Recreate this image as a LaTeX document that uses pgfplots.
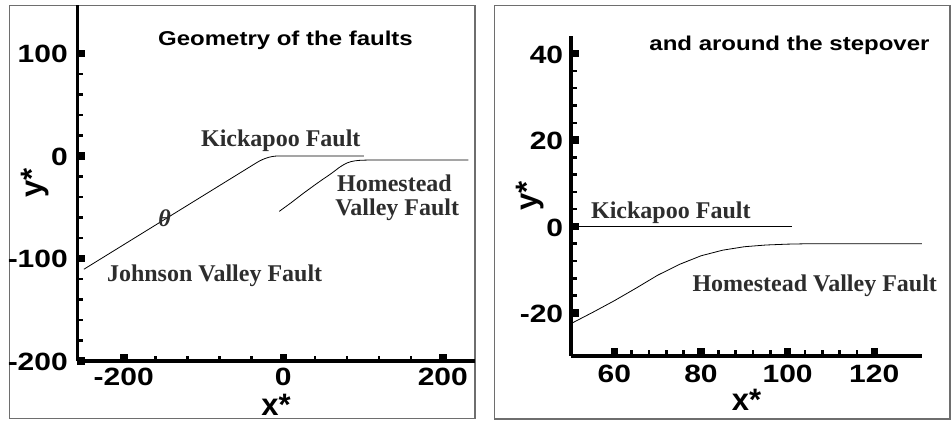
\documentclass[border=0pt]{standalone}
\usepackage{pgfplots}
\usepackage{pgfplotstable}
\pgfplotsset{compat=1.18}
\usepackage{fontspec}
\setmainfont{Liberation Serif}
\newfontfamily\hv[FakeStretch=1.2]{Liberation Sans}
\newfontfamily\hvl{Liberation Sans}
\definecolor{lab}{RGB}{45,45,45}
\definecolor{frm}{RGB}{110,110,110}

\pgfplotstableread{
x y
-250 -110.5
-34 -6.8
-30 -5.0
-26 -3.47
-22 -2.22
-18 -1.25
-14 -0.56
-10 -0.14
-6 0
101 0
}\kickapoo

\pgfplotstableread{
x y
-5 -54
10 -45.5
25 -36.5
40 -28
50 -22.5
55 -19.9
60 -17.2
65 -14.3
70 -11.3
75 -8.8
80 -6.8
85 -5.5
90 -4.7
95 -4.3
100 -4.1
105 -4.0
232 -4.0
}\homestead

\pgfplotsset{
  faultaxis/.style={
    scale only axis,
    anchor=south west,
    axis lines=left,
    axis line style={-, line width=3.2pt},
    every outer x axis line/.append style={-},
    every outer y axis line/.append style={-},
    tick align=inside,
    major tick length=7.5pt,
    minor tick length=5.5pt,
    every major tick/.append style={line width=7.5pt, black},
    every minor tick/.append style={line width=2.5pt, black},
    minor x tick num=4,
    minor y tick num=4,
    clip mode=individual,
    ticklabel style={font=\hv\bfseries\fontsize{25pt}{26pt}\selectfont, inner sep=0pt},
    label style={font=\hvl\bfseries\fontsize{31pt}{32pt}\selectfont, inner sep=0pt},
    xlabel={x*}, ylabel={y*},
  },
}
\tikzset{fl/.style={font=\bfseries\fontsize{24pt}{25pt}\selectfont, text=lab, inner sep=0pt}}

\begin{document}
\begin{tikzpicture}[x=1pt,y=1pt]
\useasboundingbox (0,0) rectangle (951,421);
\draw[frm, line width=1.2pt] (9.5,2.7) rectangle (475,415.3);
\draw[frm, line width=1.2pt] (494.3,2.0) rectangle (950,415.3);

\begin{axis}[faultaxis,
  at={(77.5pt,60pt)}, width=397.2pt, height=355.7pt,
  xmin=-258, xmax=240, ymin=-200, ymax=147,
  xtick={-200,0,200}, xticklabels={-200,0,200},
  ytick={-200,-100,0,100}, yticklabels={-200,-100,0,100},
  xticklabel style={anchor=north, yshift=-7.3pt},
  yticklabel style={anchor=east, xshift=-9.5pt, yshift=-0.5pt},
  xlabel style={at={(axis description cs:0.5,-0.122)}, anchor=center},
  ylabel style={at={(axis description cs:-0.107,0.5)}, anchor=center},
]
\addplot[black, line width=0.8pt] table {\kickapoo};
\addplot[black, line width=0.8pt] table {\homestead};
\node[fl, anchor=base] at (axis cs:-3.1,9.1) {Kickapoo Fault};
\node[fl, anchor=base west] at (axis cs:67.3,-34.8) {Homestead};
\node[fl, anchor=base west] at (axis cs:65,-57.6) {Valley Fault};
\node[fl, anchor=base west] at (axis cs:-221.2,-122.6) {Johnson Valley Fault};
\node[fl, font=\bfseries\itshape\fontsize{24pt}{25pt}\selectfont] at (axis cs:-148.8,-60.8) {θ};
\end{axis}

\begin{axis}[faultaxis,
  at={(571pt,65pt)}, width=350.9pt, height=319.6pt,
  xmin=50, xmax=131, ymin=-30, ymax=44,
  xtick={60,80,100,120}, xticklabels={60,80,100,120},
  ytick={-20,0,20,40}, yticklabels={-20,0,20,40},
  xticklabel style={anchor=north, yshift=-8.5pt},
  yticklabel style={anchor=east, xshift=-7.7pt, yshift=-1pt},
  xlabel style={at={(axis description cs:0.5,-0.137)}, anchor=center},
  ylabel style={at={(axis description cs:-0.117,0.5)}, anchor=center},
]
\addplot[black, line width=0.8pt] table {\kickapoo};
\addplot[black, line width=0.8pt] table {\homestead};
\node[fl, anchor=base west] at (axis cs:54.6,1.78) {Kickapoo Fault};
\node[fl, anchor=base west] at (axis cs:78.0,-15.0) {Homestead Valley Fault};
\end{axis}

\node[anchor=base, font=\hv\bfseries\fontsize{20pt}{21pt}\selectfont] at (285.5,375.3) {Geometry of the faults};
\node[anchor=base, font=\hv\bfseries\fontsize{20pt}{21pt}\selectfont] at (789.5,370.3) {and around the stepover};
\end{tikzpicture}
\end{document}
